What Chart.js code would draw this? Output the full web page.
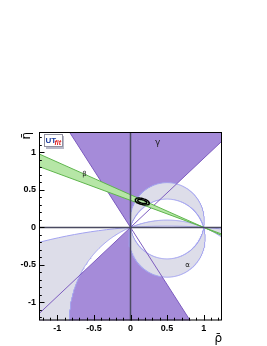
<!DOCTYPE html>
<html>
<head>
<meta charset="utf-8">
<script src="https://cdn.jsdelivr.net/npm/chart.js@4.4.0/dist/chart.umd.min.js"></script>
<style>
  html, body { margin: 0; padding: 0; background: #fff; }
  #wrap { width: 267px; height: 346px; }
</style>
</head>
<body>
<div id="wrap"><canvas id="utChart" width="267" height="346"></canvas></div>
<script>
// Axis ranges and tick labels
const rhoRange = [-1.25, 1.25];
const etaRange = [-1.24, 1.27];
const tickValues = [-1, -0.5, 0, 0.5, 1];

// Constraint ranges in degrees
const gammaRange = [42.6, 123.3];
const betaRange = [19.8, 23.5];
const alphaRangeMain = [80, 106];
const alphaRangeMirror = [158, 176];

// Fit result contours: centre, semi axes (68% / 95%) and tilt in degrees
const fitCenter = [0.16, 0.345];
const fitAxes68 = [0.065, 0.022];
const fitAxes95 = [0.1, 0.04];
const fitTilt = -15;

// Region names
const regionNames = ['γ', 'β', 'α'];

const rad = d => d * Math.PI / 180;

// Circle through (0,0) and (1,0) where the triangle apex angle equals alpha
const alphaArc = (alpha, upper, n = 400) => {
    const c = 0.5 / Math.tan(rad(alpha));
    const r = 0.5 / Math.sin(rad(alpha));
    const a0 = Math.atan2(-c, -0.5);
    const a1 = Math.atan2(-c, 0.5);
    let from = upper ? a1 : a0;
    let to = upper ? a0 : a1;
    while (to < from) to += 2 * Math.PI;
    let pts = [];
    for (let i = 0; i <= n; i++) {
        let t = from + (to - from) * i / n;
        pts.push({x: 0.5 + r * Math.cos(t), y: c + r * Math.sin(t)});
    }
    return pts;
}

// Both crescents between two alpha circles
const alphaCrescents = (range) => {
    let up = alphaArc(range[0], true).concat(alphaArc(range[1], true).reverse());
    let down = alphaArc(range[1], false).concat(alphaArc(range[0], false).reverse());
    return [up, down];
}

// Inner part common to both circles (left empty in the plot)
const alphaHole = (range) => alphaArc(range[1], true).concat(alphaArc(range[0], false));

// Straight line through a point at a given angle
const lineThrough = (x0, y0, deg, R = 6) => [
    {x: x0 - R * Math.cos(rad(deg)), y: y0 - R * Math.sin(rad(deg))},
    {x: x0, y: y0},
    {x: x0 + R * Math.cos(rad(deg)), y: y0 + R * Math.sin(rad(deg))}
];

// Double wedge with apex (x0,y0) between two angles
const wedge = (x0, y0, a, b, R = 6) => [
    {x: x0, y: y0},
    {x: x0 + R * Math.cos(rad(a)), y: y0 + R * Math.sin(rad(a))},
    {x: x0 + R * Math.cos(rad(b)), y: y0 + R * Math.sin(rad(b))},
    {x: x0, y: y0},
    {x: x0 - R * Math.cos(rad(a)), y: y0 - R * Math.sin(rad(a))},
    {x: x0 - R * Math.cos(rad(b)), y: y0 - R * Math.sin(rad(b))},
    {x: x0, y: y0}
];

const ellipse = (axes, n = 90) => {
    let pts = [];
    let t0 = rad(fitTilt);
    for (let i = 0; i <= n; i++) {
        let t = 2 * Math.PI * i / n;
        let u = axes[0] * Math.cos(t), v = axes[1] * Math.sin(t);
        pts.push({x: fitCenter[0] + u * Math.cos(t0) - v * Math.sin(t0),
                  y: fitCenter[1] + u * Math.sin(t0) + v * Math.cos(t0)});
    }
    return pts;
}

// Dataset helpers (bigger order = drawn further below)
const area = (pts, fillColor, lineColor, order) => ({
    data: pts, showLine: true, fill: 'shape', backgroundColor: fillColor,
    borderColor: lineColor, borderWidth: 1, pointRadius: 0, order: order
});
const outline = (pts, lineColor, width, order) => ({
    data: pts, showLine: true, fill: false, borderColor: lineColor,
    borderWidth: width, pointRadius: 0, order: order
});

const purple = '#a58bd9', purpleLine = '#7d5cbf';
const grey = '#dddde9', greyLine = '#a3a3f0';
const green = '#b6e6a6', greenLine = '#5fb54d';
const none = 'rgba(0,0,0,0)';

let mainCres = alphaCrescents(alphaRangeMain);
let mirrorCres = alphaCrescents(alphaRangeMirror);

let datasets = [
    area(wedge(0, 0, gammaRange[0], gammaRange[1]), purple, none, 10),
    area(alphaHole(alphaRangeMain), '#fff', none, 9.5),
    area(mainCres[0], grey, greyLine, 9),
    area(mainCres[1], grey, greyLine, 9),
    area(mirrorCres[0], grey, greyLine, 9),
    area(mirrorCres[1], grey, greyLine, 9),
    outline(lineThrough(0, 0, gammaRange[0]), purpleLine, 1, 8),
    outline(lineThrough(0, 0, gammaRange[1]), purpleLine, 1, 8),
    area(wedge(1, 0, 180 - betaRange[0], 180 - betaRange[1]), green, greenLine, 7),
    outline(ellipse(fitAxes95), '#000', 1.3, 2),
    outline(ellipse(fitAxes68), '#000', 1.3, 1)
];

// Frame, inner ticks, zero lines, labels and logo (ROOT style)
const rootDecor = {
    id: 'rootDecor',
    afterDatasetsDraw(chart) {
        const {ctx, chartArea: a, scales: {x, y}} = chart;
        ctx.save();

        // zero lines
        ctx.strokeStyle = '#4a4a60';
        ctx.lineWidth = 1.5;
        ctx.beginPath();
        ctx.moveTo(x.getPixelForValue(0), a.top);
        ctx.lineTo(x.getPixelForValue(0), a.bottom);
        ctx.moveTo(a.left, y.getPixelForValue(0));
        ctx.lineTo(a.right, y.getPixelForValue(0));
        ctx.stroke();

        // ticks
        ctx.strokeStyle = '#000';
        ctx.lineWidth = 1;
        ctx.beginPath();
        for (let i = -12; i <= 12; i++) {
            let v = i / 10;
            let len = (i % 5 === 0) ? 5.5 : 2.8;
            let px = Math.round(x.getPixelForValue(v)) + 0.5;
            ctx.moveTo(px, a.bottom);
            ctx.lineTo(px, a.bottom - len);
            if (v >= etaRange[0] && v <= etaRange[1]) {
                let py = Math.round(y.getPixelForValue(v)) + 0.5;
                ctx.moveTo(a.left, py);
                ctx.lineTo(a.left + len, py);
            }
        }
        ctx.stroke();

        // frame
        ctx.strokeRect(a.left + 0.5, a.top + 0.5, a.width - 1, a.height - 1);

        // region names
        ctx.fillStyle = '#222';
        ctx.textAlign = 'center';
        ctx.textBaseline = 'middle';
        ctx.font = '9px "DejaVu Sans"';
        ctx.fillText(regionNames[0], x.getPixelForValue(0.37), y.getPixelForValue(1.13));
        ctx.font = '7px "DejaVu Sans"';
        ctx.fillText(regionNames[1], x.getPixelForValue(-0.63), y.getPixelForValue(0.71));
        ctx.fillText(regionNames[2], x.getPixelForValue(0.78), y.getPixelForValue(-0.51));

        // UTfit logo
        ctx.fillStyle = '#b8b8c8';
        ctx.fillRect(46, 136, 18, 13);
        ctx.fillStyle = '#fff';
        ctx.fillRect(44.5, 134.5, 18, 12);
        ctx.strokeStyle = '#9090a0';
        ctx.strokeRect(44.5, 134.5, 18, 12);
        ctx.textAlign = 'left';
        ctx.textBaseline = 'alphabetic';
        ctx.fillStyle = '#1f3f9f';
        ctx.font = 'bold 8px "Liberation Sans"';
        ctx.fillText('UT', 45.5, 143);
        ctx.fillStyle = '#e02020';
        ctx.font = 'italic bold 7px "Liberation Sans"';
        ctx.fillText('fit', 54.5, 144.5);
        ctx.restore();
    }
};

const tickFont = {family: '"Liberation Sans", Arial, sans-serif', size: 9, weight: 'bold'};

const ctx = document.getElementById('utChart').getContext('2d');
const utChart = new Chart(ctx, {
    type: 'scatter',
    data: { datasets: datasets },
    options: {
        responsive: false,
        animation: false,
        layout: { padding: { top: 132, right: 45, left: 0, bottom: 0 } },
        plugins: {
            legend: { display: false },
            tooltip: { enabled: false }
        },
        scales: {
            x: {
                type: 'linear',
                min: rhoRange[0],
                max: rhoRange[1],
                afterBuildTicks: s => { s.ticks = tickValues.map(v => ({value: v})); },
                afterFit: s => { s.height = 25.5; },
                grid: { display: false, drawTicks: false },
                border: { display: false },
                ticks: { font: tickFont, color: '#000', padding: 3, autoSkip: false, maxRotation: 0,
                         callback: v => String(v) },
                title: { display: true, text: 'ρ\u0304', align: 'end', color: '#000',
                         font: {family: '"DejaVu Sans"', size: 12}, padding: {top: 0, bottom: 0} }
            },
            y: {
                type: 'linear',
                min: etaRange[0],
                max: etaRange[1],
                afterBuildTicks: s => { s.ticks = tickValues.map(v => ({value: v})); },
                afterFit: s => { s.width = 39; },
                grid: { display: false, drawTicks: false },
                border: { display: false },
                ticks: { font: tickFont, color: '#000', padding: 3, autoSkip: false,
                         callback: v => String(v) },
                title: { display: true, text: 'η\u0304', align: 'end', color: '#000',
                         font: {family: '"DejaVu Sans"', size: 12}, padding: {top: 20, bottom: 0} }
            }
        }
    },
    plugins: [rootDecor]
});
</script>
</body>
</html>
